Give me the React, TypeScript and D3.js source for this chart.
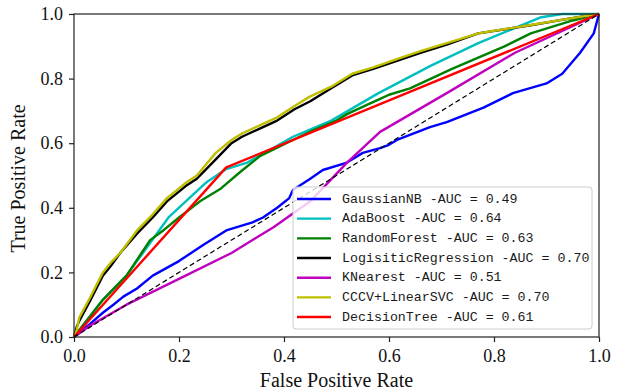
import React, { useEffect, useRef } from 'react';
import * as d3 from 'd3';

// ROC curves (fpr / tpr pairs)
const gnbFpr = [0, 0.03, 0.055, 0.075, 0.094, 0.12, 0.15, 0.2, 0.246, 0.29, 0.34, 0.36, 0.387, 0.41, 0.417, 0.45, 0.474, 0.52, 0.55, 0.583, 0.6, 0.615, 0.646, 0.678, 0.71, 0.78, 0.836, 0.9, 0.93, 0.964, 0.99, 1];
const gnbTpr = [0, 0.04, 0.075, 0.1, 0.125, 0.15, 0.19, 0.235, 0.285, 0.33, 0.355, 0.37, 0.4, 0.43, 0.455, 0.49, 0.517, 0.54, 0.57, 0.585, 0.595, 0.61, 0.63, 0.65, 0.665, 0.71, 0.755, 0.785, 0.815, 0.88, 0.94, 1];

const adaFpr = [0, 0.055, 0.1, 0.18, 0.253, 0.29, 0.33, 0.417, 0.49, 0.58, 0.68, 0.77, 0.89, 0.93, 1];
const adaTpr = [0, 0.115, 0.19, 0.37, 0.48, 0.52, 0.54, 0.62, 0.67, 0.755, 0.84, 0.91, 0.99, 1, 1];

const rfFpr = [0, 0.055, 0.1, 0.145, 0.17, 0.2, 0.24, 0.28, 0.316, 0.354, 0.417, 0.455, 0.5, 0.52, 0.56, 0.58, 0.6, 0.64, 0.68, 0.72, 0.77, 0.82, 0.87, 0.95, 1];
const rfTpr = [0, 0.115, 0.19, 0.3, 0.33, 0.37, 0.42, 0.46, 0.51, 0.56, 0.61, 0.64, 0.67, 0.69, 0.72, 0.735, 0.75, 0.77, 0.8, 0.83, 0.865, 0.9, 0.94, 0.98, 1];

const lrFpr = [0, 0.005, 0.01, 0.03, 0.055, 0.07, 0.088, 0.12, 0.15, 0.177, 0.2, 0.215, 0.234, 0.27, 0.3, 0.32, 0.36, 0.387, 0.42, 0.45, 0.49, 0.53, 0.57, 0.615, 0.66, 0.71, 0.77, 0.87, 0.94, 1];
const lrTpr = [0, 0.03, 0.05, 0.11, 0.19, 0.22, 0.26, 0.32, 0.37, 0.42, 0.45, 0.47, 0.49, 0.55, 0.6, 0.62, 0.65, 0.67, 0.705, 0.73, 0.77, 0.81, 0.83, 0.855, 0.88, 0.905, 0.94, 0.965, 0.985, 1];

const knnFpr = [0, 0.03, 0.1, 0.2, 0.3, 0.38, 0.45, 0.52, 0.583, 0.71, 0.84, 1];
const knnTpr = [0, 0.035, 0.1, 0.18, 0.26, 0.34, 0.42, 0.54, 0.635, 0.755, 0.88, 1];

const svcFpr = [0, 0.005, 0.01, 0.03, 0.055, 0.07, 0.088, 0.12, 0.15, 0.177, 0.2, 0.215, 0.234, 0.27, 0.3, 0.32, 0.36, 0.387, 0.42, 0.45, 0.49, 0.53, 0.57, 0.615, 0.66, 0.71, 0.77, 0.87, 0.94, 1];
const svcTpr = [0, 0.02, 0.06, 0.12, 0.2, 0.23, 0.26, 0.33, 0.38, 0.43, 0.46, 0.48, 0.5, 0.57, 0.61, 0.63, 0.66, 0.68, 0.715, 0.745, 0.775, 0.815, 0.835, 0.86, 0.885, 0.91, 0.94, 0.966, 0.985, 1];

const dtFpr = [0, 0.29, 1];
const dtTpr = [0, 0.525, 1];

const modelNames = ['GaussianNB', 'AdaBoost', 'RandomForest', 'LogisiticRegression', 'KNearest', 'CCCV+LinearSVC', 'DecisionTree'];
const aucValues = ['0.49', '0.64', '0.63', '0.70', '0.51', '0.70', '0.61'];
const lineColors = ['#0000ff', '#00bfbf', '#008000', '#000000', '#bf00bf', '#bfbf00', '#ff0000'];
const tickValues = [0, 0.2, 0.4, 0.6, 0.8, 1.0];

export default function App() {
  const chartRef = useRef<SVGSVGElement>(null);

  useEffect(() => {
    if (!chartRef.current) return;
    const svg = d3.select(chartRef.current);
    svg.selectAll("*").remove();

    const left = 74, right = 599, top = 14, bottom = 337;
    const x = d3.scaleLinear().domain([0, 1]).range([left, right]);
    const y = d3.scaleLinear().domain([0, 1]).range([bottom, top]);

    const curves = [
      [gnbFpr, gnbTpr], [adaFpr, adaTpr], [rfFpr, rfTpr], [lrFpr, lrTpr],
      [knnFpr, knnTpr], [svcFpr, svcTpr], [dtFpr, dtTpr],
    ].map(([f, t]) => f.map((v, i) => [v, t[i]] as [number, number]));

    const line = d3.line<[number, number]>().x(d => x(d[0])).y(d => y(d[1]));

    const plot = svg.append("g");
    curves.forEach((pts, i) => {
      plot.append("path")
        .datum(pts)
        .attr("fill", "none")
        .attr("stroke", lineColors[i])
        .attr("stroke-width", 2.4)
        .attr("stroke-linejoin", "round")
        .attr("d", line);
    });

    // chance diagonal
    plot.append("path")
      .datum([[0, 0], [1, 1]] as [number, number][])
      .attr("fill", "none")
      .attr("stroke", "#000")
      .attr("stroke-width", 1.2)
      .attr("stroke-dasharray", "5,3")
      .attr("d", line);

    // axes
    const tickFont = "'Liberation Serif', 'Times New Roman', serif";
    const xAxis = svg.append("g")
      .attr("transform", `translate(0,${bottom})`)
      .call(d3.axisBottom(x).tickValues(tickValues).tickFormat(d3.format(".1f")).tickSize(5).tickSizeOuter(0).tickPadding(7));
    const yAxis = svg.append("g")
      .attr("transform", `translate(${left},0)`)
      .call(d3.axisLeft(y).tickValues(tickValues).tickFormat(d3.format(".1f")).tickSize(5).tickSizeOuter(0).tickPadding(6));
    [xAxis, yAxis].forEach(a => {
      a.select(".domain").remove();
      a.selectAll("line").attr("stroke", "#222").attr("stroke-width", 1.2);
      a.selectAll("text")
        .style("font-family", tickFont)
        .style("font-size", "18px")
        .attr("fill", "#111");
    });

    // spines
    svg.append("rect")
      .attr("x", left).attr("y", top)
      .attr("width", right - left).attr("height", bottom - top)
      .attr("fill", "none")
      .attr("stroke", "#222")
      .attr("stroke-width", 1.2);

    // axis titles
    svg.append("text")
      .attr("x", (left + right) / 2)
      .attr("y", 387)
      .attr("text-anchor", "middle")
      .style("font-family", tickFont)
      .style("font-size", "20px")
      .attr("fill", "#111")
      .text("False Positive Rate");

    svg.append("text")
      .attr("transform", `translate(25,${(top + bottom) / 2 + 3}) rotate(-90)`)
      .attr("text-anchor", "middle")
      .style("font-family", tickFont)
      .style("font-size", "20px")
      .attr("fill", "#111")
      .text("True Positive Rate");

    // legend
    const lg = svg.append("g").attr("transform", "translate(293,187)");
    lg.append("rect")
      .attr("width", 299).attr("height", 142)
      .attr("rx", 3)
      .attr("fill", "#fff").attr("fill-opacity", 0.8)
      .attr("stroke", "#cccccc").attr("stroke-width", 1);
    modelNames.forEach((name, i) => {
      const cy = 12 + i * 19.67;
      lg.append("line")
        .attr("x1", 4).attr("x2", 38)
        .attr("y1", cy).attr("y2", cy)
        .attr("stroke", lineColors[i])
        .attr("stroke-width", 2.4);
      lg.append("text")
        .attr("x", 49).attr("y", cy)
        .attr("dominant-baseline", "central")
        .style("font-family", "'Liberation Mono', 'DejaVu Sans Mono', monospace")
        .style("font-size", "13.3px")
        .attr("fill", "#1a1a1a")
        .attr("xml:space", "preserve")
        .text(`${name} -AUC = ${aucValues[i]}`);
    });
  }, []);

  return (
    <div style={{ position: 'fixed', left: 0, top: 0 }}>
      <svg ref={chartRef} width={617} height={391} style={{ display: 'block', background: '#fff' }}></svg>
    </div>
  );
}
